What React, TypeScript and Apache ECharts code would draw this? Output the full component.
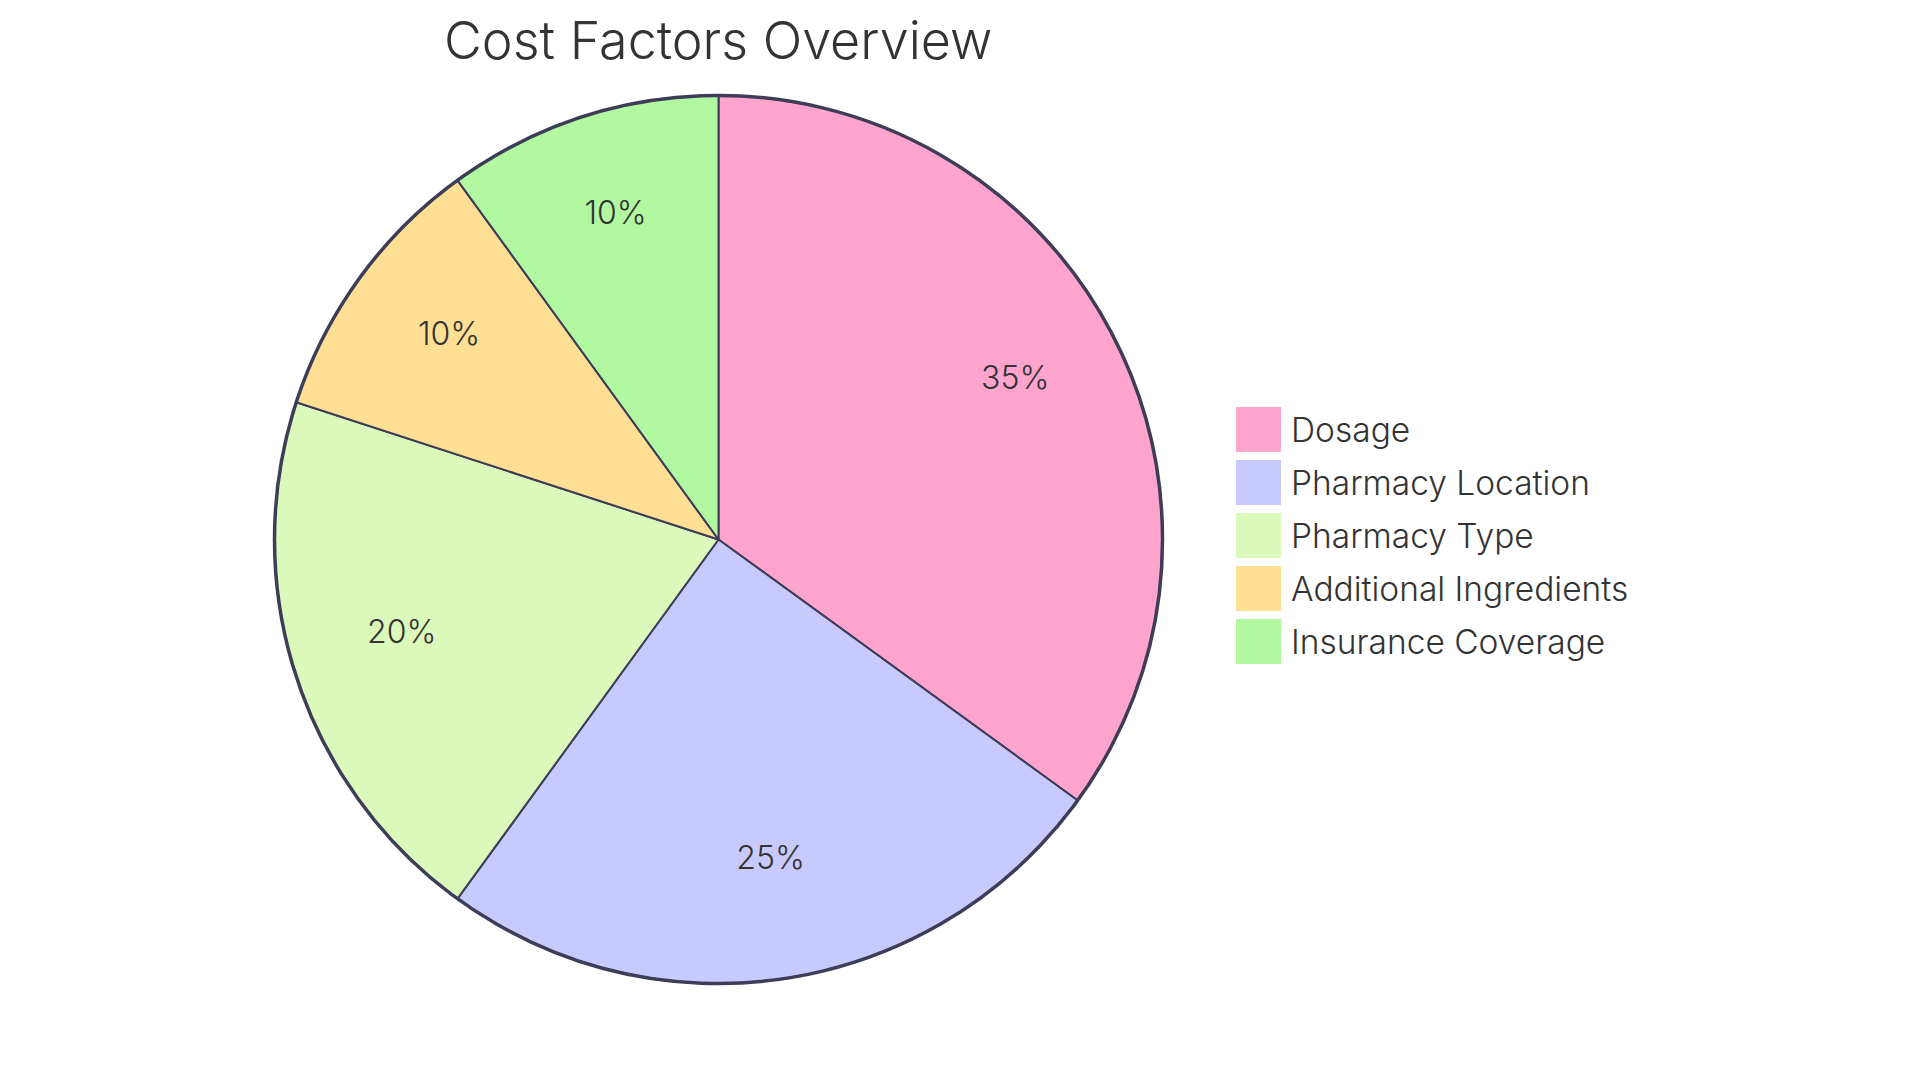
import React, { useEffect, useRef } from "react";
import * as echarts from "echarts";

const titleText = "Cost Factors Overview";
const categories = ["Dosage", "Pharmacy Location", "Pharmacy Type", "Additional Ingredients", "Insurance Coverage"];
const values = [35, 25, 20, 10, 10];
const colors = ["#FFA4CC", "#C8CAFF", "#DBF9BA", "#FEDF94", "#B2F8A0"];

const FONT = "Inter, 'Noto Sans', sans-serif";
const STROKE = "#3d3d58";
const TEXT = "#333333";

export default function App() {
  const ref = useRef<HTMLDivElement>(null);
  useEffect(() => {
    document.body.style.margin = "0";
    document.body.style.overflow = "hidden";
    const chart = echarts.init(ref.current!, null, { renderer: "svg" });
    const total = values.reduce((a, b) => a + b, 0);
    const data = categories.map((name, i) => ({
      name,
      value: values[i],
      itemStyle: { color: colors[i] },
    }));
    const cx = 718.5;
    const cy = 539.5;
    const r = 444;
    chart.setOption({
      animation: false,
      backgroundColor: "#ffffff",
      title: {
        text: titleText,
        left: 444,
        top: 14,
        padding: 0,
        textStyle: { fontFamily: FONT, fontSize: 52, fontWeight: 300, color: TEXT },
      },
      legend: {
        orient: "vertical",
        left: 1236,
        top: 407,
        padding: 0,
        itemWidth: 45,
        itemHeight: 45,
        itemGap: 8,
        icon: "rect",
        data: categories,
        selectedMode: false,
        itemStyle: { borderWidth: 0 },
        textStyle: { fontFamily: FONT, fontSize: 33.5, fontWeight: 300, color: TEXT, padding: [0, 0, 0, 5] },
      },
      series: [
        {
          type: "pie",
          center: [cx, cy],
          radius: [0, r],
          startAngle: 90,
          clockwise: true,
          silent: true,
          label: { show: false },
          labelLine: { show: false },
          itemStyle: { borderColor: STROKE, borderWidth: 2 },
          data,
        },
        {
          type: "pie",
          center: [cx, cy],
          radius: [216, r],
          startAngle: 90,
          clockwise: true,
          silent: true,
          itemStyle: { color: "transparent", borderWidth: 0 },
          labelLine: { show: false },
          label: {
            show: true,
            position: "inside",
            fontFamily: FONT,
            fontSize: 32,
            fontWeight: 300,
            lineHeight: 21,
            color: TEXT,
            formatter: (p: any) => `${Math.round((p.value / total) * 100)}%\n `,
          },
          data: categories.map((name, i) => ({ name, value: values[i] })),
        },
      ],
      graphic: [
        {
          type: "circle",
          silent: true,
          z: 10,
          shape: { cx, cy, r },
          style: { fill: "none", stroke: STROKE, lineWidth: 3.5 },
        },
      ],
    });
    return () => chart.dispose();
  }, []);
  return <div ref={ref} style={{ width: 1920, height: 1083 }} />;
}
